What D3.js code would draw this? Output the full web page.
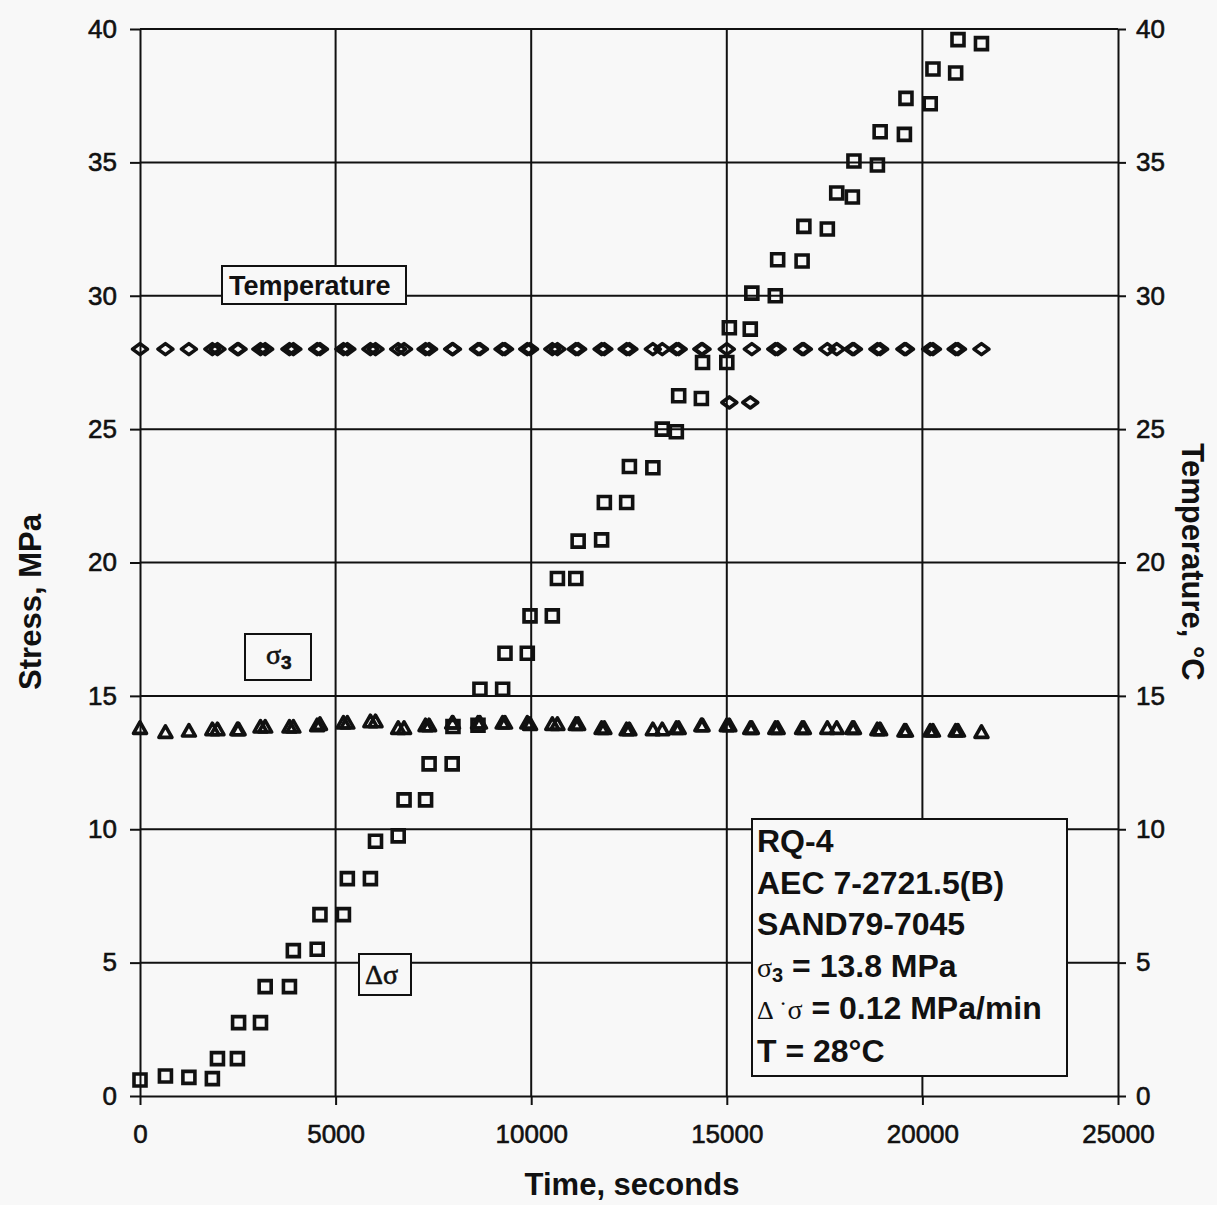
<!DOCTYPE html>
<html>
<head>
<meta charset="utf-8">
<script src="https://cdn.jsdelivr.net/npm/d3@7"></script>
<style>
  body { margin: 0; background: #f8f8f8; }
  svg { display: block; }
</style>
</head>
<body>
<svg id="chart" width="1217" height="1205"></svg>
<script>
// Test RQ-4: elapsed time of each reading, seconds
const timeSec = [
  0, 650, 1250, 1850, 1980, 2490, 2520, 3080, 3200, 3820,
  3920, 4530, 4600, 5200, 5300, 5890, 6020, 6600, 6750, 7300,
  7390, 7980, 8000, 8640, 8690, 9270, 9330, 9900, 9970, 10540,
  10670, 11140, 11200, 11800, 11870, 12440, 12510, 13110, 13350, 13710,
  13770, 14350, 14380, 15000, 15065, 15600, 15640, 16240, 16300, 16925,
  16970, 17570, 17810, 18210, 18250, 18850, 18920, 19540, 19580, 20200,
  20270, 20850, 20910, 21510
];

// Stress difference, MPa (squares)
const stressDiff = [
  0.6, 0.75, 0.7, 0.65, 1.4, 1.4, 2.75, 2.75, 4.1, 4.1,
  5.45, 5.5, 6.8, 6.8, 8.15, 8.15, 9.55, 9.75, 11.1, 11.1,
  12.45, 12.45, 13.85, 13.9, 15.25, 15.25, 16.6, 16.6, 18.0, 18.0,
  19.4, 19.4, 20.8, 20.85, 22.25, 22.25, 23.6, 23.55, 25.0, 24.9,
  26.25, 26.15, 27.5, 27.5, 28.8, 28.75, 30.1, 30.0, 31.35, 31.3,
  32.6, 32.5, 33.85, 33.7, 35.05, 34.9, 36.15, 36.05, 37.4, 37.2,
  38.5, 38.35, 39.6, 39.45
];

// Confining pressure sigma-3, MPa (triangles)
const sigma3 = [
  13.8, 13.65, 13.7, 13.75, 13.75, 13.75, 13.75, 13.85, 13.85, 13.85,
  13.85, 13.9, 13.95, 14.0, 14.0, 14.05, 14.05, 13.8, 13.8, 13.9,
  13.9, 14.0, 14.0, 14.0, 14.0, 14.0, 14.0, 14.0, 13.95, 13.95,
  13.95, 13.95, 13.95, 13.8, 13.8, 13.75, 13.75, 13.75, 13.75, 13.8,
  13.8, 13.9, 13.9, 13.9, 13.9, 13.8, 13.8, 13.8, 13.8, 13.8,
  13.8, 13.8, 13.8, 13.8, 13.8, 13.75, 13.75, 13.7, 13.7, 13.7,
  13.7, 13.7, 13.7, 13.65
];

// Specimen temperature, deg C (diamonds, right axis)
const temperatureC = [
  28.0, 28.0, 28.0, 28.0, 28.0, 28.0, 28.0, 28.0, 28.0, 28.0,
  28.0, 28.0, 28.0, 28.0, 28.0, 28.0, 28.0, 28.0, 28.0, 28.0,
  28.0, 28.0, 28.0, 28.0, 28.0, 28.0, 28.0, 28.0, 28.0, 28.0,
  28.0, 28.0, 28.0, 28.0, 28.0, 28.0, 28.0, 28.0, 28.0, 28.0,
  28.0, 28.0, 28.0, 28.0, 26.0, 26.0, 28.0, 28.0, 28.0, 28.0,
  28.0, 28.0, 28.0, 28.0, 28.0, 28.0, 28.0, 28.0, 28.0, 28.0,
  28.0, 28.0, 28.0, 28.0
];

const timeTicks = [0, 5000, 10000, 15000, 20000, 25000];
const stressTicks = [0, 5, 10, 15, 20, 25, 30, 35, 40];
const tempTicks = [0, 5, 10, 15, 20, 25, 30, 35, 40];

const W = 1217, H = 1205;
const BG = "#f8f8f8", INK = "#111";
const SANS = "'Liberation Sans', Arial, Helvetica, sans-serif";
const SERIF = "'Liberation Serif', 'Times New Roman', serif";

const svg = d3.select("#chart");
svg.append("rect").attr("width", W).attr("height", H).attr("fill", BG);

const x = d3.scaleLinear().domain([0, 25000]).range([140, 1118]);
const y = d3.scaleLinear().domain([0, 40]).range([1096, 29]);
const yT = d3.scaleLinear().domain([0, 40]).range([1096, 29]);

// grid
const grid = svg.append("g").attr("stroke", INK).attr("stroke-width", 2);
grid.selectAll("line.h").data(stressTicks.filter(d => d > 0)).join("line")
  .attr("class", "h")
  .attr("x1", x(0)).attr("x2", x(25000))
  .attr("y1", d => y(d)).attr("y2", d => y(d));
grid.selectAll("line.v").data(timeTicks.filter(d => d > 0 && d < 25000)).join("line")
  .attr("class", "v")
  .attr("x1", d => x(d)).attr("x2", d => x(d))
  .attr("y1", y(40)).attr("y2", y(0));

function styleAxis(g, size) {
  g.select(".domain").attr("stroke", INK).attr("stroke-width", 2);
  g.selectAll(".tick line").attr("stroke", INK).attr("stroke-width", 2);
  g.selectAll(".tick text")
    .attr("fill", INK)
    .attr("stroke", INK).attr("stroke-width", 0.6)
    .style("font-family", SANS)
    .style("font-size", size + "px");
}

svg.append("g")
  .attr("transform", `translate(${x(0)},0)`)
  .call(d3.axisLeft(y).tickValues(stressTicks).tickFormat(d3.format("d"))
    .tickSize(10).tickSizeOuter(0).tickPadding(13))
  .call(g => styleAxis(g, 26));

svg.append("g")
  .attr("transform", `translate(${x(25000)},0)`)
  .call(d3.axisRight(yT).tickValues(tempTicks).tickFormat(d3.format("d"))
    .tickSize(8).tickSizeOuter(0).tickPadding(10))
  .call(g => styleAxis(g, 26));

svg.append("g")
  .attr("transform", `translate(0,${y(0)})`)
  .call(d3.axisBottom(x).tickValues(timeTicks).tickFormat(d3.format("d"))
    .tickSize(9).tickSizeOuter(0).tickPadding(20))
  .call(g => styleAxis(g, 26));

// axis titles
const titleStyle = t => t
  .style("font-family", SANS).style("font-size", "31px").style("font-weight", "bold")
  .attr("fill", INK);

svg.append("text")
  .attr("x", 632).attr("y", 1195).attr("text-anchor", "middle")
  .call(titleStyle).text("Time, seconds");

svg.append("text")
  .attr("transform", "translate(41,602) rotate(-90)").attr("text-anchor", "middle")
  .call(titleStyle).text("Stress, MPa");

svg.append("text")
  .attr("transform", "translate(1182,562) rotate(90)").attr("text-anchor", "middle")
  .call(titleStyle).text("Temperature, °C");

// series labels in boxes
function box(x0, y0, w, h) {
  svg.append("rect").attr("x", x0).attr("y", y0).attr("width", w).attr("height", h)
    .attr("fill", BG).attr("stroke", INK).attr("stroke-width", 2);
}

box(222, 266, 184, 38);
svg.append("text").attr("x", 229).attr("y", 295)
  .style("font-family", SANS).style("font-size", "27px").style("font-weight", "bold")
  .attr("fill", INK).text("Temperature");

box(245, 634, 66, 46);
const s3 = svg.append("text").attr("x", 266).attr("y", 664).attr("fill", INK)
  .attr("stroke", INK).attr("stroke-width", 0.6);
s3.append("tspan").style("font-family", SERIF).style("font-size", "28px").text("σ");
s3.append("tspan").attr("dy", 5).style("font-family", SANS).style("font-size", "19px")
  .style("font-weight", "bold").text("3");

box(359, 954, 52, 41);
svg.append("text").attr("x", 365).attr("y", 984).attr("fill", INK)
  .attr("stroke", INK).attr("stroke-width", 0.6)
  .style("font-family", SERIF).style("font-size", "28px").text("Δσ");

// markers
const squarePath = "M-6,-6H6V6H-6Z";
const diamondPath = "M-7.5,0L0,-5.5L7.5,0L0,5.5Z";
const trianglePath = "M0,-6L6.5,5.5L-6.5,5.5Z";

const pts = timeSec.map((t, i) => ({ t, d: stressDiff[i], s: sigma3[i], T: temperatureC[i] }));

svg.append("g").selectAll("path").data(pts).join("path")
  .attr("d", squarePath)
  .attr("transform", p => `translate(${x(p.t)},${y(p.d)})`)
  .attr("fill", "none").attr("stroke", INK).attr("stroke-width", 3.6);

svg.append("g").selectAll("path").data(pts).join("path")
  .attr("d", trianglePath)
  .attr("transform", p => `translate(${x(p.t)},${y(p.s)})`)
  .attr("fill", "none").attr("stroke", INK).attr("stroke-width", 3.6).attr("stroke-linejoin", "round");

svg.append("g").selectAll("path").data(pts).join("path")
  .attr("d", diamondPath)
  .attr("transform", p => `translate(${x(p.t)},${yT(p.T)})`)
  .attr("fill", "none").attr("stroke", INK).attr("stroke-width", 3.6).attr("stroke-linejoin", "round");

// test description box
box(752, 819, 315, 257);
const info = svg.append("g").attr("fill", INK)
  .style("font-family", SANS).style("font-size", "32px").style("font-weight", "bold");
const lx = 757;
info.append("text").attr("x", lx).attr("y", 852).text("RQ-4");
info.append("text").attr("x", lx).attr("y", 894).text("AEC 7-2721.5(B)");
info.append("text").attr("x", lx).attr("y", 935).text("SAND79-7045");
const l4 = info.append("text").attr("x", lx).attr("y", 977);
l4.append("tspan").style("font-family", SERIF).style("font-weight", "normal").style("font-size", "28px").text("σ");
l4.append("tspan").attr("dy", 5).style("font-size", "20px").text("3");
l4.append("tspan").attr("dy", -5).text(" = 13.8 MPa");
const l5 = info.append("text").attr("x", lx).attr("y", 1019);
l5.append("tspan").style("font-family", SERIF).style("font-weight", "normal").style("font-size", "26px").text("Δ");
l5.append("tspan").style("font-family", SERIF).style("font-weight", "normal").style("font-size", "26px").text(" ˙");
l5.append("tspan").style("font-family", SERIF).style("font-weight", "normal").style("font-size", "28px").text("σ");
l5.append("tspan").text(" = 0.12 MPa/min");
info.append("text").attr("x", lx).attr("y", 1062).text("T = 28°C");
</script>
</body>
</html>
